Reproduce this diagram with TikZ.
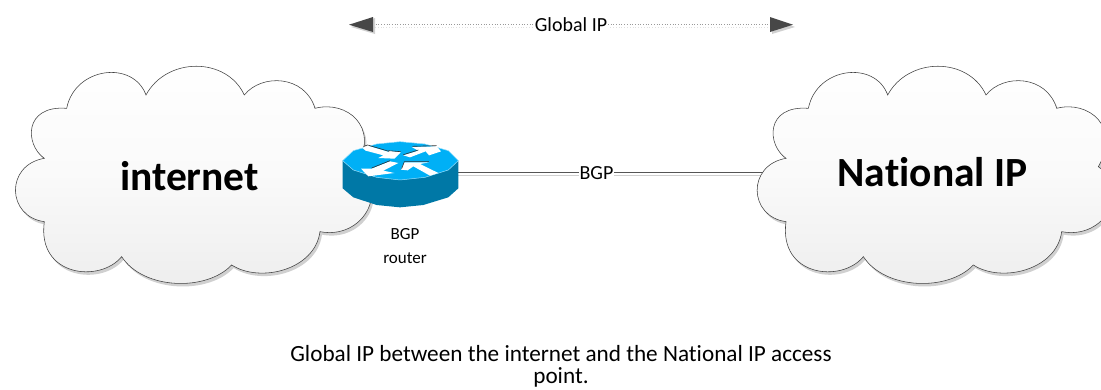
\documentclass[tikz,border=0pt]{standalone}
\usepackage{fontspec}
\setmainfont[Ligatures=NoCommon]{Carlito}
\usetikzlibrary{calc,shadings}
\definecolor{routertop}{HTML}{00B0F6}
\definecolor{routerside}{HTML}{0078A6}
\definecolor{shadowgray}{HTML}{D0D0D0}
\definecolor{linedark}{HTML}{555555}
\newcommand{\cloudshape}{
  (133,-325) .. controls (75,-285) and (70,-165) .. (200,-175)
  .. controls (225,-50) and (400,-30) .. (438,-135)
  .. controls (500,-20) and (680,-20) .. (733,-135)
  .. controls (785,-70) and (915,-75) .. (945,-175)
  .. controls (1040,-150) and (1140,-230) .. (1070,-350)
  .. controls (1170,-420) and (1090,-570) .. (960,-545)
  .. controls (945,-660) and (780,-700) .. (695,-645)
  .. controls (620,-725) and (430,-720) .. (365,-620)
  .. controls (300,-700) and (110,-680) .. (133,-515)
  .. controls (20,-500) and (15,-345) .. (133,-325) -- cycle}
\tikzset{
  x=1pt,y=1pt,
  cloudbody/.style={draw=black!75,line width=0.55pt,top color=white,bottom color=black!7,middle color=black!2},
  cloudshade/.style={fill=shadowgray,draw=none},
  cloudtitle/.style={font=\fontsize{41.5}{44}\selectfont\bfseries,text=black,inner sep=0pt},
  smalltext/.style={font=\fontsize{17}{24}\selectfont,text=black,inner sep=1pt,align=center},
  captiontext/.style={font=\fontsize{23.2}{22}\selectfont,text=black,inner sep=0pt,align=center},
  linelabel/.style={font=\fontsize{20}{22}\selectfont,text=black,fill=white,inner sep=1pt},
  routerbox/.style={minimum width=116pt,minimum height=66pt,inner sep=0pt,draw=none},
  headdark/.style={fill=black!72,draw=none},
  headshade/.style={fill=shadowgray,draw=none},
  arrowwhite/.style={fill=white,draw=none},
  arrowedge/.style={draw=black!80,line width=0.6pt,fill=none},
}
\begin{document}
\begin{tikzpicture}
\useasboundingbox (0,0) rectangle (1101,-389);
\clip (0,0) rectangle (1101,-389);
% named anchors
\node[routerbox] (router) at (400.5,-174.5) {};
\coordinate (routerport) at (458,-172.7);
\coordinate (nationalport) at (765,-172.7);
\coordinate (gl) at (373,-24.7);
\coordinate (gr) at (770,-24.7);
\node[linelabel] (bgp) at (596.5,-173) {\phantom{BGP}};
\node[linelabel] (globalip) at (571,-24.5) {\phantom{Global IP}};
% connector shadows and lines
\draw[shadowgray,line width=1pt] ($(routerport)+(0,-3)$) -- ($(nationalport)+(0,-3)$);
\draw[linedark,line width=0.8pt] (routerport) -- (nationalport);
\draw[black!12,line width=0.8pt,dotted] ($(gl)+(2,-2.5)$) -- ($(gr)+(2,-2.5)$);
\draw[black!40,line width=0.7pt,dotted] (gl) -- (gr);
% arrowheads of Global IP
\fill[headshade] (351,-27) -- (375,-18) -- (375,-34) -- cycle;
\fill[headshade] (795,-27) -- (772,-18) -- (772,-34) -- cycle;
\fill[headdark] (349,-24.7) -- (373,-17) -- (373,-32) -- cycle;
\fill[headdark] (793,-24.7) -- (770,-17) -- (770,-32) -- cycle;
% labels over the lines
\node[linelabel] at (bgp) {BGP};
\node[linelabel] at (globalip) {Global IP};
% clouds
\begin{scope}[x=0.3333pt,y=0.3333pt,yshift=-50pt]
  \fill[cloudshade,shift={(6,-9)}] \cloudshape;
  \path[cloudbody] \cloudshape;
\end{scope}
\begin{scope}[x=0.3333pt,y=0.3333pt,xshift=741.7pt,yshift=-50pt]
  \fill[cloudshade,shift={(6,-9)}] \cloudshape;
  \path[cloudbody] \cloudshape;
\end{scope}
\node[cloudtitle] (internet) at (189.5,-176) {internet};
\node[cloudtitle] (national) at (932.5,-172) {National IP};
% router
\begin{scope}[x=0.3333pt,y=0.3333pt,xshift=320pt,yshift=-120pt]
  \fill[routerside] (68,-122) -- (68,-205) -- (100,-232) -- (170,-255) -- (240,-262) -- (310,-255) -- (385,-232) -- (415,-205) -- (415,-122) -- cycle;
  \fill[routertop,draw=white!60!routertop,line width=0.5pt] (68,-122) -- (100,-92) -- (170,-72) -- (240,-65) -- (315,-72) -- (385,-92) -- (415,-122) -- (385,-150) -- (315,-172) -- (240,-180) -- (170,-172) -- (100,-150) -- cycle;
\end{scope}
\begin{scope}[x=0.3333pt,y=0.3333pt,xshift=355pt,yshift=-138pt]
  \fill[arrowwhite] (22,-30) -- (38,-23) -- (102,-42) -- (100,-38) -- (137,-43) -- (118,-62) -- (70,-60) -- (85,-52) -- (32,-38) -- cycle;
  \draw[arrowedge] (25,-25) -- (38,-21) -- (102,-40) (100,-38) -- (137,-41);
  \fill[arrowwhite] (145,-52) -- (190,-38) -- (170,-27) -- (245,-25) -- (258,-40) -- (222,-52) -- (212,-40) -- (165,-58) -- cycle;
  \draw[arrowedge] (145,-50) -- (190,-36) (172,-25) -- (245,-23);
  \fill[arrowwhite] (18,-92) -- (50,-92) -- (105,-70) -- (130,-75) -- (85,-98) -- (118,-105) -- (40,-115) -- cycle;
  \draw[arrowedge] (50,-90) -- (105,-68);
  \fill[arrowwhite] (138,-95) -- (148,-73) -- (222,-73) -- (195,-78) -- (250,-105) -- (225,-113) -- (175,-85) -- (158,-97) -- cycle;
  \draw[arrowedge] (140,-92) -- (148,-71) -- (222,-71);
\end{scope}
% texts
\node[smalltext] (routerlabel) at (405,-246) {BGP\\router};
\node[captiontext] (caption) at (561,-366) {Global IP between the internet and the National IP access\\point.};
\end{tikzpicture}
\end{document}
